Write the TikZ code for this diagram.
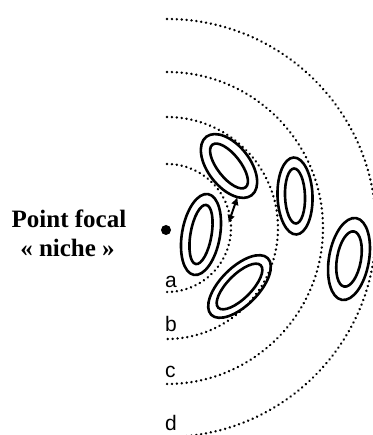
\documentclass[tikz,border=0pt]{standalone}
\usepackage{fontspec}
\setmainfont{Liberation Serif}
\newfontfamily\labfont{Liberation Sans}
\usetikzlibrary{arrows.meta}

\begin{document}
\begin{tikzpicture}[x=1pt, y=1pt, >={Latex[length=8pt,width=8pt]},
	zone/.style={line width=2.6pt, dash pattern=on 0.1pt off 4.8pt, line cap=round},
	contour/.style={line width=2.6pt},
	lab/.style={font=\labfont\fontsize{21}{24}\selectfont, anchor=base west, inner sep=0pt},
	title/.style={font=\bfseries\fontsize{25}{29}\selectfont, anchor=base, inner sep=0pt}]
	\useasboundingbox (0,0) rectangle (372,435);
	% niche zones around the focal point
	\coordinate (focus) at (167,207);
	\foreach \r in {64,111,156,209} {\draw[zone] (focus) ++(90:\r) arc[start angle=90, end angle=-90, radius=\r];}
	\fill (166,205) circle (5);
	\node[title] (focal) at (69,207) {Point focal};
	\node[title] (niche) at (67.5,178) {« niche »};
	\node[lab] (la) at (165,147) {a};
	\node[lab] (lb) at (165,103) {b};
	\node[lab] (lc) at (165,57) {c};
	\node[lab] (ld) at (165,5) {d};
	% patches: x, y, angle, outer radii, inner radii
	\foreach \x/\y/\ang/\ra/\rb/\ia/\ib in {229/269/-52/37/21/27/11.5, 201/200.5/80/41/19/30/10.5, 239.5/148.5/45/40/19/30/12, 295/239/92/38.5/17.5/27.5/10, 349/176/80/41.5/20/28/12} {
		\draw[contour, rotate around={\ang:(\x,\y)}] (\x,\y) ellipse[x radius=\ra, y radius=\rb];
		\draw[contour, rotate around={\ang:(\x,\y)}] (\x,\y) ellipse[x radius=\ia, y radius=\ib];
	}
	\coordinate (gapA) at (228.5,212);
	\coordinate (gapB) at (237.5,238);
	\draw[<->, line width=2pt] (gapA) -- (gapB);
\end{tikzpicture}
\end{document}
